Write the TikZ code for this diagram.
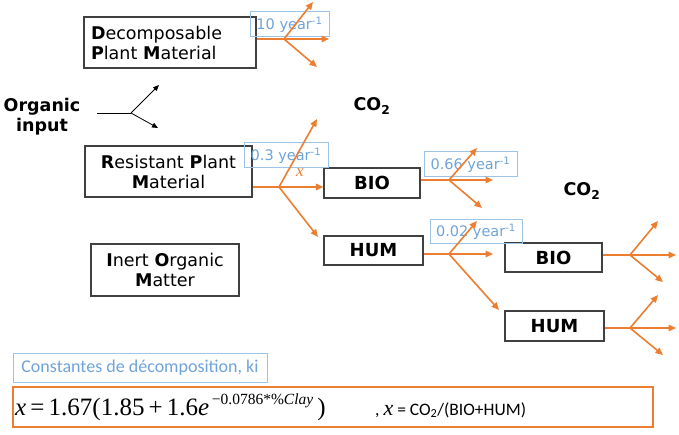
\documentclass[tikz,border=0pt]{standalone}
\usepackage{fontspec}
\setmainfont{DejaVu Sans}
\newfontfamily\calib{Carlito}
\newfontfamily\tms{Liberation Serif}
\usetikzlibrary{arrows.meta}
\definecolor{orng}{HTML}{ED7D31}
\definecolor{lblue}{HTML}{9DC3E6}
\definecolor{tblue}{HTML}{6FA3D8}
\definecolor{bgray}{HTML}{404040}
\tikzset{
  poolbox/.style={draw=bgray, line width=1.1pt, inner sep=0pt, font=\fontsize{17.5}{20}\selectfont},
  smallbox/.style={poolbox, font=\fontsize{18}{20}\selectfont\bfseries},
  ratebox/.style={draw=lblue, line width=1pt, text=tblue, inner sep=0pt, font=\fontsize{14.5}{16}\selectfont},
  flow/.style={draw=orng, line width=1.6pt, -{Triangle[length=7.5pt,width=6.5pt]}},
  flowline/.style={draw=orng, line width=1.6pt},
  inflow/.style={draw=black, line width=0.8pt, -{Triangle[length=6pt,width=5pt]}},
  plainlabel/.style={inner sep=0pt, font=\fontsize{17.5}{20}\selectfont\bfseries},
}
\begin{document}
\begin{tikzpicture}[x=1pt,y=-1pt]
\useasboundingbox (0,0) rectangle (679,435);
% pools
\node[poolbox, minimum width=172pt, minimum height=51pt, text width=158pt, align=left] (dpm) at (170,42.5) {\textbf{D}ecomposable\\\textbf{P}lant \textbf{M}aterial};
\node[poolbox, minimum width=167pt, minimum height=51pt, text width=160pt, align=center] (rpm) at (168.5,171.5) {\textbf{R}esistant \textbf{P}lant\\\textbf{M}aterial};
\node[poolbox, minimum width=148pt, minimum height=52pt, text width=146pt, align=center] (iom) at (165,270) {\textbf{I}nert \textbf{O}rganic\\\textbf{M}atter};
\node[smallbox, minimum width=96pt, minimum height=30pt] (bio1) at (372,183) {BIO};
\node[smallbox, minimum width=99pt, minimum height=29pt] (hum1) at (373.5,250.5) {HUM};
\node[smallbox, minimum width=97pt, minimum height=29pt] (bio2) at (553.5,257.5) {BIO};
\node[smallbox, minimum width=99pt, minimum height=30pt] (hum2) at (554.5,326) {HUM};
% labels
\node[plainlabel, align=center] (oi) at (42,117) {Organic\\input};
\node[plainlabel] (co2a) at (372,106) {CO\textsubscript{2}};
\node[plainlabel] (co2b) at (582,191) {CO\textsubscript{2}};
% rate boxes
\node[ratebox, minimum width=79pt, minimum height=25pt] (k1) at (289.5,24.5) {10 year\textsuperscript{-1}};
\node[ratebox, minimum width=84pt, minimum height=25pt] (k2) at (286,155.5) {0.3 year\textsuperscript{-1}};
\node[ratebox, minimum width=93pt, minimum height=25pt] (k3) at (470.5,164.5) {0.66 year\textsuperscript{-1}};
\node[ratebox, minimum width=92pt, minimum height=24pt] (k4) at (476,232) {0.02 year\textsuperscript{-1}};
\node[text=orng, inner sep=0pt, font=\tms\itshape\fontsize{17}{17}\selectfont] (xl) at (300,173) {x};
% organic input arrows
\coordinate (i0) at (97,113);
\coordinate (i1) at (131,113);
\coordinate (iu) at (159,85);
\coordinate (id) at (158,128);
\draw[line width=0.8pt] (i0) -- (i1);
\draw[inflow] (i1) -- (iu);
\draw[inflow] (i1) -- (id);
% DPM branch
\coordinate (d1) at (284,39);
\coordinate (du) at (313,2);
\coordinate (dr) at (329,39);
\coordinate (dd) at (317,67);
\draw[flowline] (dpm.east |- d1) -- (d1);
\draw[flow] (d1) -- (du);
\draw[flow] (d1) -- (dr);
\draw[flow] (d1) -- (dd);
% RPM branch
\coordinate (r1) at (279,187);
\coordinate (ru) at (317,119);
\coordinate (rd) at (318,237);
\draw[flowline] (rpm.east |- r1) -- (r1);
\draw[flow] (r1) -- (ru);
\draw[flow] (r1) -- (bio1.west |- r1);
\draw[flow] (r1) -- (rd);
% BIO1 branch
\coordinate (b1) at (449,180);
\coordinate (bu) at (477,148);
\coordinate (br) at (493,180);
\coordinate (bd) at (482,208);
\draw[flowline] (bio1.east |- b1) -- (b1);
\draw[flow] (b1) -- (bu);
\draw[flow] (b1) -- (br);
\draw[flow] (b1) -- (bd);
% HUM1 branch
\coordinate (h1) at (449,254);
\coordinate (hu) at (477,221);
\coordinate (hr) at (493,254);
\coordinate (hd) at (499,310);
\draw[flowline] (hum1.east |- h1) -- (h1);
\draw[flow] (h1) -- (hu);
\draw[flow] (h1) -- (hr);
\draw[flow] (h1) -- (hd);
% BIO2 branch
\coordinate (c1) at (630,255);
\coordinate (cu) at (658,221);
\coordinate (cr) at (676,255);
\coordinate (cd) at (663,282);
\draw[flowline] (bio2.east |- c1) -- (c1);
\draw[flow] (c1) -- (cu);
\draw[flow] (c1) -- (cr);
\draw[flow] (c1) -- (cd);
% HUM2 branch
\coordinate (e1) at (630,328);
\coordinate (eu) at (658,295);
\coordinate (er) at (676,328);
\coordinate (ed) at (663,355);
\draw[flowline] (hum2.east |- e1) -- (e1);
\draw[flow] (e1) -- (eu);
\draw[flow] (e1) -- (er);
\draw[flow] (e1) -- (ed);
% bottom
\node[draw=lblue, line width=1pt, text=tblue, inner sep=0pt, minimum width=254pt, minimum height=29pt, font=\calib\fontsize{18}{20}\selectfont] (const) at (140,367.5) {Constantes de décomposition, ki};
\node[draw=orng, line width=1.2pt, minimum width=640pt, minimum height=40pt, inner sep=0pt] (eqbox) at (333,407) {};
\node[anchor=base west, inner sep=0pt, font=\tms\fontsize{25}{25}\selectfont] (eq) at (15,415) {\textit{x}\,=\,1.67(1.85\,+\,1.6\textit{e}\raisebox{10.5pt}{\fontsize{15.5}{15.5}\selectfont\,−0.0786*\%\textit{Clay}}\,)};
\node[anchor=base west, inner sep=0pt, font=\calib\fontsize{17.5}{20}\selectfont] (eqx) at (375,415) {, {\tms\itshape\fontsize{22}{22}\selectfont x} = CO\textsubscript{2}/(BIO+HUM)};
\end{tikzpicture}
\end{document}
